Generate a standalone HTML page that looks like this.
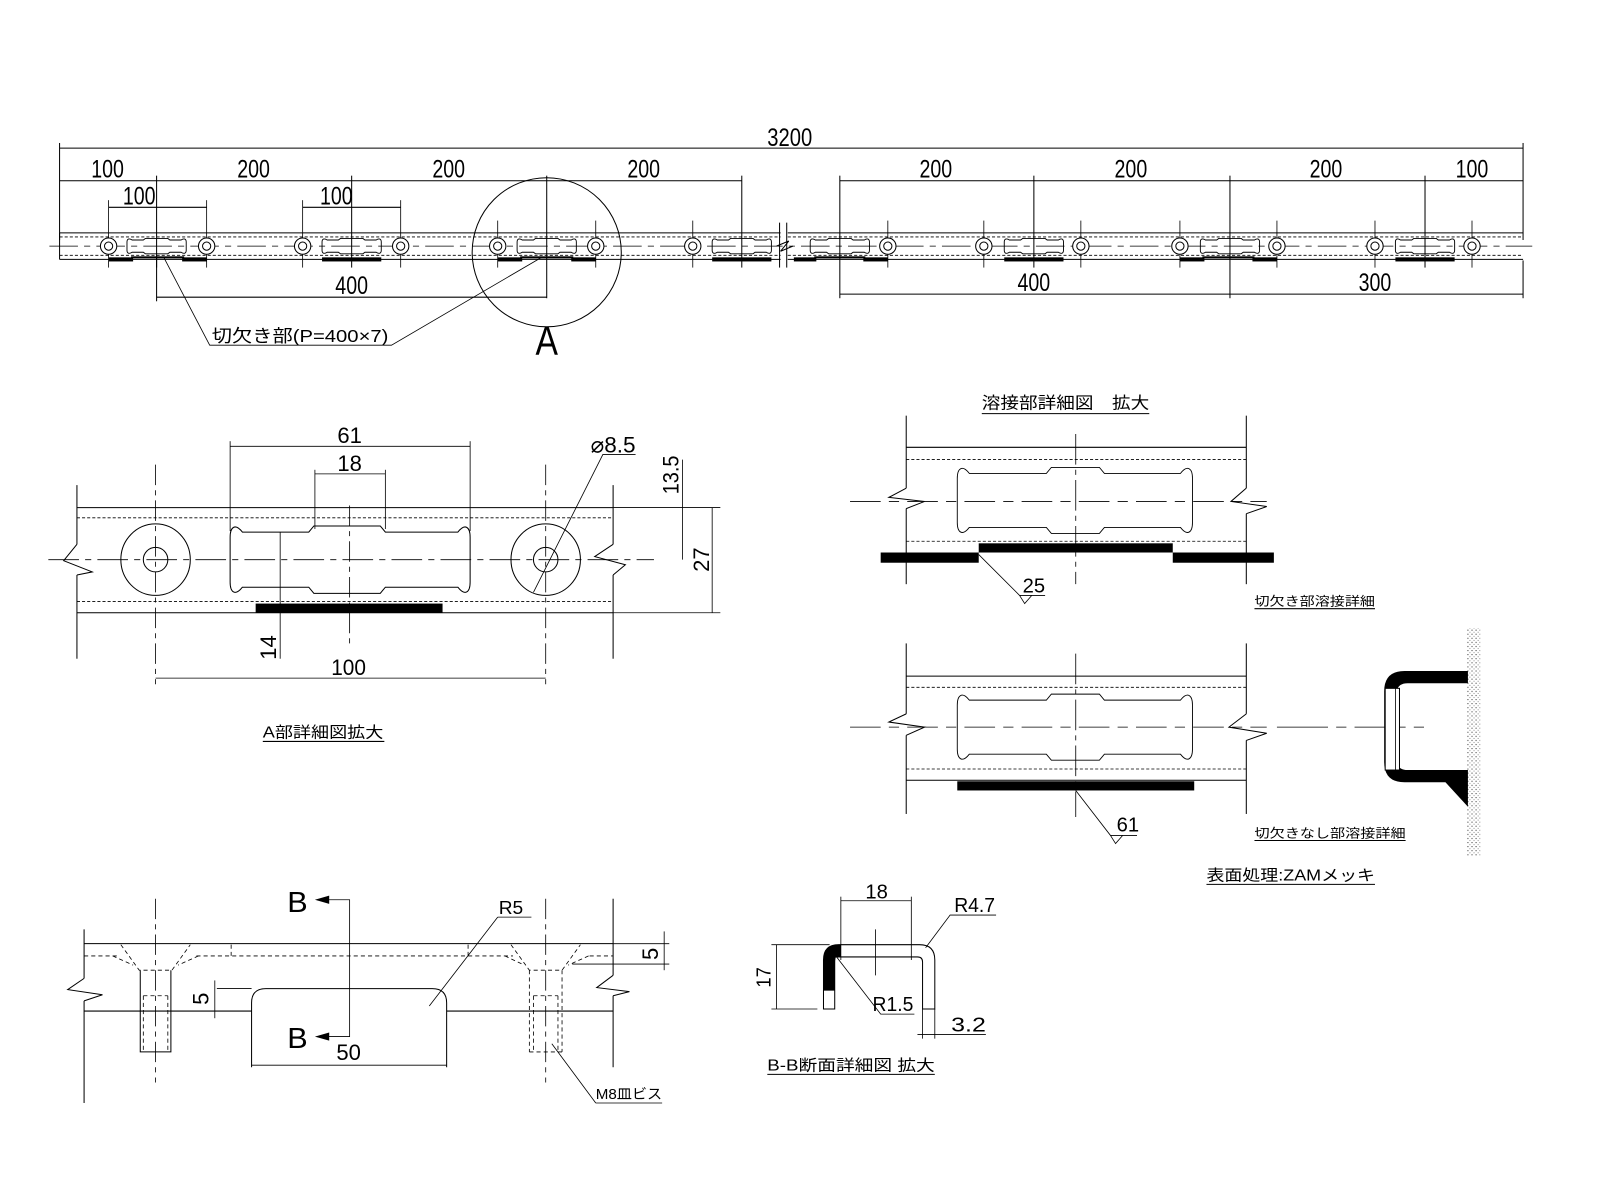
<!DOCTYPE html>
<html><head><meta charset="utf-8"><style>
html,body{margin:0;padding:0;background:#fff}
svg{display:block}
text{font-family:"Liberation Sans Narrow","Liberation Sans",sans-serif;fill:#000}
.j{font-family:"Liberation Sans","Noto Sans CJK JP",sans-serif}
</style></head><body>
<svg width="1600" height="1200" viewBox="0 0 1566 1175" xmlns="http://www.w3.org/2000/svg">
<defs>
<pattern id="sp" width="4" height="4" patternUnits="userSpaceOnUse"><rect width="4" height="4" fill="#fff"/><circle cx="1" cy="1" r="0.6" fill="#444"/><circle cx="3" cy="3" r="0.5" fill="#666"/></pattern>
<g id="hole"><circle r="8" fill="#fff" stroke="#000"/><circle r="4" fill="none" stroke="#000"/></g>
<g id="sslot"><path d="M5,-6 L16,-6 L18,-7.5 L40,-7.5 L42,-6 L53,-6 C56,-8 58,-7 58,-4 L58,4 C58,7 56,8 53,6 L42,6 L40,7.5 L18,7.5 L16,6 L5,6 C2,8 0,7 0,4 L0,-4 C0,-7 2,-8 5,-6 Z" fill="none" stroke="#000" stroke-width="0.9"/></g>
<g id="bslot"><path d="M12,-27 C5,-36 0,-32 0,-22 L0,22 C0,32 5,36 12,27 L77,27 L82,33 L147,33 L152,27 L223,27 C230,36 235,32 235,22 L235,-22 C235,-32 230,-36 223,-27 L152,-27 L147,-33 L82,-33 L77,-27 Z" fill="none" stroke="#000"/></g>
</defs>
<g stroke="#000" fill="none" stroke-width="1">
<line x1="58" y1="145" x2="1491" y2="145"/>
<line x1="58" y1="140" x2="58" y2="235"/><line x1="1491" y1="140" x2="1491" y2="235"/>
<line x1="58" y1="177" x2="726" y2="177"/><line x1="822" y1="177" x2="1491" y2="177"/>
<line x1="153" y1="172" x2="153" y2="262"/><line x1="344" y1="172" x2="344" y2="262"/><line x1="535" y1="172" x2="535" y2="292"/><line x1="726" y1="172" x2="726" y2="262"/>
<line x1="822" y1="172" x2="822" y2="292"/><line x1="1012" y1="172" x2="1012" y2="262"/><line x1="1204" y1="172" x2="1204" y2="292"/><line x1="1395" y1="172" x2="1395" y2="262"/>
<line x1="106" y1="203" x2="202" y2="203"/><line x1="296" y1="203" x2="392" y2="203"/>
<line x1="153" y1="250" x2="153" y2="295"/>
<line x1="153" y1="291" x2="535" y2="291"/>
<line x1="822" y1="288" x2="1491" y2="288"/><line x1="1491" y1="255" x2="1491" y2="292"/>
<g stroke-width="0.8">
<line x1="106" y1="196" x2="106" y2="262"/><line x1="202" y1="196" x2="202" y2="262"/>
<line x1="296" y1="196" x2="296" y2="262"/><line x1="392" y1="196" x2="392" y2="262"/>
<line x1="487" y1="216" x2="487" y2="262"/><line x1="583" y1="216" x2="583" y2="262"/>
<line x1="678" y1="216" x2="678" y2="262"/><line x1="869" y1="216" x2="869" y2="262"/>
<line x1="963" y1="216" x2="963" y2="262"/><line x1="1058" y1="216" x2="1058" y2="262"/>
<line x1="1155" y1="216" x2="1155" y2="262"/><line x1="1250" y1="216" x2="1250" y2="262"/>
<line x1="1346" y1="216" x2="1346" y2="262"/><line x1="1441" y1="216" x2="1441" y2="262"/>
</g>
<line x1="58" y1="228" x2="764" y2="228"/><line x1="58" y1="254" x2="764" y2="254"/>
<line x1="771" y1="228" x2="1491" y2="228"/><line x1="771" y1="254" x2="1491" y2="254"/>
<line x1="58" y1="228" x2="58" y2="254"/>
<g stroke-dasharray="3 2" stroke-width="0.8">
<line x1="58" y1="232" x2="764" y2="232"/><line x1="58" y1="250" x2="764" y2="250"/>
<line x1="771" y1="232" x2="1491" y2="232"/><line x1="771" y1="250" x2="1491" y2="250"/>
</g>
<line x1="48" y1="241" x2="1500" y2="241" stroke-dasharray="28 6 6 6" stroke-width="0.8"/>
<line x1="763" y1="218" x2="763" y2="262"/><line x1="770" y1="218" x2="770" y2="262"/>
<path d="M760,241 L772,236 L764,246 L776,241" />
<circle cx="535" cy="247" r="73"/>
<path d="M160,252 L205,338 L383,338 L530,252" stroke-width="0.8"/>
</g>
<g>
<use href="#hole" x="106" y="241"/><use href="#hole" x="202" y="241"/><use href="#hole" x="296" y="241"/><use href="#hole" x="392" y="241"/>
<use href="#hole" x="487" y="241"/><use href="#hole" x="583" y="241"/><use href="#hole" x="678" y="241"/><use href="#hole" x="869" y="241"/>
<use href="#hole" x="963" y="241"/><use href="#hole" x="1058" y="241"/><use href="#hole" x="1155" y="241"/><use href="#hole" x="1250" y="241"/>
<use href="#hole" x="1346" y="241"/><use href="#hole" x="1441" y="241"/>
<use href="#sslot" x="124" y="241"/><use href="#sslot" x="315" y="241"/><use href="#sslot" x="506" y="241"/><use href="#sslot" x="697" y="241"/>
<use href="#sslot" x="793" y="241"/><use href="#sslot" x="983" y="241"/><use href="#sslot" x="1175" y="241"/><use href="#sslot" x="1366" y="241"/>
</g>
<g fill="#000">
<rect x="106" y="252" width="24" height="4"/><rect x="178" y="252" width="24" height="4"/><rect x="128" y="251" width="52" height="2"/>
<rect x="315" y="252" width="58" height="4"/>
<rect x="487" y="252" width="24" height="4"/><rect x="559" y="252" width="24" height="4"/><rect x="509" y="251" width="52" height="2"/>
<rect x="697" y="252" width="58" height="4"/>
<rect x="777" y="252" width="22" height="4"/><rect x="845" y="252" width="24" height="4"/><rect x="797" y="251" width="50" height="2"/>
<rect x="983" y="252" width="58" height="4"/>
<rect x="1155" y="252" width="24" height="4"/><rect x="1226" y="252" width="24" height="4"/><rect x="1177" y="251" width="51" height="2"/>
<rect x="1366" y="252" width="58" height="4"/>
</g>
<g font-size="24" text-anchor="middle">
<text x="773" y="143" textLength="44" lengthAdjust="spacingAndGlyphs">3200</text>
<text x="105" y="174" textLength="32" lengthAdjust="spacingAndGlyphs">100</text>
<text x="248" y="174" textLength="32" lengthAdjust="spacingAndGlyphs">200</text>
<text x="439" y="174" textLength="32" lengthAdjust="spacingAndGlyphs">200</text>
<text x="630" y="174" textLength="32" lengthAdjust="spacingAndGlyphs">200</text>
<text x="916" y="174" textLength="32" lengthAdjust="spacingAndGlyphs">200</text>
<text x="1107" y="174" textLength="32" lengthAdjust="spacingAndGlyphs">200</text>
<text x="1298" y="174" textLength="32" lengthAdjust="spacingAndGlyphs">200</text>
<text x="1441" y="174" textLength="32" lengthAdjust="spacingAndGlyphs">100</text>
<text x="136" y="200" textLength="32" lengthAdjust="spacingAndGlyphs">100</text>
<text x="329" y="200" textLength="32" lengthAdjust="spacingAndGlyphs">100</text>
<text x="344" y="288" textLength="32" lengthAdjust="spacingAndGlyphs">400</text>
<text x="1012" y="285" textLength="32" lengthAdjust="spacingAndGlyphs">400</text>
<text x="1346" y="285" textLength="32" lengthAdjust="spacingAndGlyphs">300</text>
<text x="535" y="347" font-size="40" textLength="22" lengthAdjust="spacingAndGlyphs">A</text>
</g>
<text x="207" y="335" font-size="17" class="j" textLength="173" lengthAdjust="spacingAndGlyphs">切欠き部(P=400×7)</text>

<g stroke="#000" fill="none">
<line x1="75" y1="497" x2="600" y2="497"/><line x1="75" y1="600" x2="600" y2="600"/>
<line x1="600" y1="497" x2="705" y2="497" stroke-width="0.8"/><line x1="600" y1="600" x2="705" y2="600" stroke-width="0.8"/>
<g stroke-dasharray="3 2" stroke-width="0.8"><line x1="75" y1="507" x2="600" y2="507"/><line x1="75" y1="589" x2="600" y2="589"/></g>
<line x1="75" y1="475" x2="75" y2="533"/><line x1="75" y1="563" x2="75" y2="645"/>
<path d="M75,533 L62,549 L90,560 L75,563"/>
<line x1="600" y1="475" x2="600" y2="533"/><line x1="600" y1="563" x2="600" y2="645"/>
<path d="M600,533 L582,545 L612,553 L600,563"/>
<line x1="47" y1="548" x2="640" y2="548" stroke-dasharray="30 6 6 6" stroke-width="0.8"/>
<ellipse cx="152" cy="548" rx="34" ry="35"/><circle cx="152" cy="548" r="12"/>
<ellipse cx="534" cy="548" rx="34" ry="35"/><circle cx="534" cy="548" r="12"/>
<line x1="152" y1="455" x2="152" y2="670" stroke-dasharray="20 5 5 5" stroke-width="0.8"/>
<line x1="534" y1="455" x2="534" y2="670" stroke-dasharray="20 5 5 5" stroke-width="0.8"/>
<line x1="342" y1="495" x2="342" y2="630" stroke-dasharray="20 5 5 5" stroke-width="0.8"/>
<use href="#bslot" x="225" y="548"/>
<g stroke-width="0.8">
<line x1="225" y1="437" x2="460" y2="437"/><line x1="225" y1="432" x2="225" y2="520"/><line x1="460" y1="432" x2="460" y2="520"/>
<line x1="308" y1="464" x2="377" y2="464"/><line x1="308" y1="460" x2="308" y2="518"/><line x1="377" y1="460" x2="377" y2="518"/>
<path d="M622,445 L590,445 L522,580"/>
<line x1="668" y1="450" x2="668" y2="548"/><line x1="697" y1="497" x2="697" y2="600"/>
<line x1="274" y1="521" x2="274" y2="645"/>
<line x1="152" y1="664" x2="534" y2="664"/>
</g>
</g>
<rect x="250" y="591" width="183" height="9" fill="#000"/>
<g font-size="22" text-anchor="middle">
<text x="342" y="434" textLength="24" lengthAdjust="spacingAndGlyphs">61</text>
<text x="342" y="461" textLength="24" lengthAdjust="spacingAndGlyphs">18</text>
<text x="341" y="661" textLength="34" lengthAdjust="spacingAndGlyphs">100</text>
<text x="600" y="443" textLength="44" lengthAdjust="spacingAndGlyphs">⌀8.5</text>
<text transform="translate(664,465) rotate(-90)" textLength="38" lengthAdjust="spacingAndGlyphs">13.5</text>
<text transform="translate(694,548) rotate(-90)" textLength="24" lengthAdjust="spacingAndGlyphs">27</text>
<text transform="translate(270,634) rotate(-90)" textLength="24" lengthAdjust="spacingAndGlyphs">14</text>
</g>
<text x="257" y="722" font-size="15" class="j" textLength="118" lengthAdjust="spacingAndGlyphs">A部詳細図拡大</text>
<line x1="257" y1="726" x2="376" y2="726" stroke="#000"/>

<g stroke="#000" fill="none">
<line x1="82" y1="924" x2="600" y2="924"/><line x1="82" y1="990" x2="246" y2="990"/><line x1="437" y1="990" x2="600" y2="990"/>
<line x1="82" y1="910" x2="82" y2="958"/><line x1="82" y1="980" x2="82" y2="1080"/>
<path d="M82,958 L66,969 L100,974 L82,980"/>
<line x1="600" y1="880" x2="600" y2="955"/><line x1="600" y1="975" x2="600" y2="1045"/>
<path d="M600,955 L584,967 L616,971 L600,975"/>
<g stroke-dasharray="4 3" stroke-width="0.8">
<path d="M82,936 L117,936 M192,936 L502,936 M577,936 L600,936"/>
<path d="M118,925 L136,950 L168,950 L186,925 M110,936 L130,945 M194,936 L174,945"/>
<path d="M500,925 L518,950 L550,950 L568,925 M494,936 L513,945 M576,936 L556,945"/>
<path d="M226,925 L226,936 M458,925 L458,936"/>
<path d="M140,975 L140,1028 M164,975 L164,1028 M140,975 L164,975"/>
<path d="M518,950 L518,1030 M550,950 L550,1030 M522,975 L522,1028 M546,975 L546,1028 M522,975 L546,975 M518,1030 L550,1030"/>
</g>
<path d="M137,950 L137,1030 L167,1030 L167,950"/>
<line x1="152" y1="880" x2="152" y2="1060" stroke-dasharray="20 5 5 5" stroke-width="0.8"/>
<line x1="534" y1="880" x2="534" y2="1060" stroke-dasharray="20 5 5 5" stroke-width="0.8"/>
<path d="M246,1045 L246,982 Q246,968 260,968 L423,968 Q437,968 437,982 L437,1045"/>
<g stroke-width="0.8">
<line x1="246" y1="1043" x2="437" y2="1043"/>
<line x1="210" y1="960" x2="210" y2="997"/><line x1="212" y1="968" x2="246" y2="968"/>
<line x1="650" y1="912" x2="650" y2="950"/><line x1="600" y1="924" x2="655" y2="924"/><line x1="560" y1="944" x2="655" y2="944"/>
<path d="M310,881 L342,881 L342,1015 L310,1015"/>
<path d="M487,898 L520,898 M487,898 L420,985"/>
<path d="M583,1080 L648,1080 M583,1080 L540,1022"/>
</g>
</g>
<path d="M308,881 L322,877 L322,885 Z M308,1015 L322,1011 L322,1019 Z" fill="#000"/>
<g font-size="22" text-anchor="middle">
<text x="291" y="893" font-size="28" textLength="20" lengthAdjust="spacingAndGlyphs">B</text>
<text x="291" y="1026" font-size="28" textLength="20" lengthAdjust="spacingAndGlyphs">B</text>
<text x="500" y="895" font-size="18" textLength="24" lengthAdjust="spacingAndGlyphs">R5</text>
<text x="341" y="1038" textLength="24" lengthAdjust="spacingAndGlyphs">50</text>
<text transform="translate(204,978) rotate(-90)" textLength="12" lengthAdjust="spacingAndGlyphs">5</text>
<text transform="translate(644,934) rotate(-90)" textLength="12" lengthAdjust="spacingAndGlyphs">5</text>
</g>
<text x="583" y="1076" font-size="14" class="j" textLength="65" lengthAdjust="spacingAndGlyphs">M8皿ビス</text>

<g stroke="#000" fill="none">
<path d="M806,988 L806,940 Q806,925 821,925 L900,925 Q915,925 915,940 L915,988 L903,988 L903,942 Q903,937 898,937 L818,937 Q817,937 817,942 L817,988 Z"/>
<g stroke-width="0.8">
<line x1="823" y1="878" x2="823" y2="940"/><line x1="892" y1="878" x2="892" y2="940"/><line x1="823" y1="882" x2="892" y2="882"/>
<line x1="857" y1="910" x2="857" y2="955"/>
<line x1="755" y1="925" x2="812" y2="925"/><line x1="755" y1="988" x2="800" y2="988"/><line x1="760" y1="925" x2="760" y2="988"/>
<path d="M975,896 L930,896 L906,928"/>
<path d="M895,993 L862,993 L818,936"/>
<line x1="903" y1="988" x2="903" y2="1017"/><line x1="915" y1="988" x2="915" y2="1017"/><line x1="898" y1="1013" x2="965" y2="1013"/>
</g>
</g>
<path d="M806,970 L806,940 Q806,925 821,925 L823,925 L823,937 L818,937 L817,942 L817,970 Z" fill="#000"/>
<g font-size="20" text-anchor="middle">
<text x="858" y="880" textLength="22" lengthAdjust="spacingAndGlyphs">18</text>
<text x="954" y="893" textLength="40" lengthAdjust="spacingAndGlyphs">R4.7</text>
<text x="874" y="990" textLength="40" lengthAdjust="spacingAndGlyphs">R1.5</text>
<text x="948" y="1010" textLength="34" lengthAdjust="spacingAndGlyphs">3.2</text>
<text transform="translate(754,957) rotate(-90)" textLength="20" lengthAdjust="spacingAndGlyphs">17</text>
</g>
<text x="751" y="1048" font-size="15" class="j" textLength="164" lengthAdjust="spacingAndGlyphs">B-B断面詳細図 拡大</text>
<line x1="751" y1="1052" x2="915" y2="1052" stroke="#000"/>

<text x="961" y="400" font-size="16" class="j" textLength="164" lengthAdjust="spacingAndGlyphs">溶接部詳細図　拡大</text>
<line x1="961" y1="405" x2="1125" y2="405" stroke="#000"/>
<g stroke="#000" fill="none">
<line x1="887" y1="438" x2="1220" y2="438"/>
<g stroke-dasharray="3 2" stroke-width="0.8"><line x1="887" y1="450" x2="1220" y2="450"/><line x1="887" y1="530" x2="1220" y2="530"/></g>
<line x1="887" y1="407" x2="887" y2="478"/><line x1="887" y1="498" x2="887" y2="572"/>
<path d="M887,478 L870,487 L905,491 L887,498"/>
<line x1="1220" y1="407" x2="1220" y2="478"/><line x1="1220" y1="503" x2="1220" y2="572"/>
<path d="M1220,478 L1205,491 L1240,496 L1220,503"/>
<line x1="832" y1="491" x2="1240" y2="491" stroke-dasharray="30 8 10 8" stroke-width="0.8"/>
<line x1="1053" y1="425" x2="1053" y2="572" stroke-dasharray="30 5 5 5" stroke-width="0.8"/>
<path transform="translate(937,490) scale(0.98,0.98)" d="M12,-27 C5,-36 0,-32 0,-22 L0,22 C0,32 5,36 12,27 L89,27 L94,33 L142,33 L147,27 L223,27 C230,36 235,32 235,22 L235,-22 C235,-32 230,-36 223,-27 L147,-27 L142,-33 L94,-33 L89,-27 Z" stroke-width="0.9"/>
<path d="M958,543 L998,583 L1023,583 M998,583 L1003,591 L1010,583" stroke-width="0.8"/>
</g>
<g fill="#000">
<rect x="958" y="532" width="190" height="9"/>
<rect x="862" y="541" width="96" height="10"/>
<rect x="1148" y="541" width="99" height="10"/>
</g>
<text x="1012" y="580" font-size="20" text-anchor="middle" textLength="22" lengthAdjust="spacingAndGlyphs">25</text>
<text x="1228" y="593" font-size="12" class="j" textLength="118" lengthAdjust="spacingAndGlyphs">切欠き部溶接詳細</text>
<line x1="1228" y1="596" x2="1346" y2="596" stroke="#000"/>

<g stroke="#000" fill="none">
<line x1="887" y1="662" x2="1220" y2="662"/><line x1="887" y1="764" x2="1220" y2="764"/>
<g stroke-dasharray="3 2" stroke-width="0.8"><line x1="887" y1="673" x2="1220" y2="673"/><line x1="887" y1="753" x2="1220" y2="753"/></g>
<line x1="887" y1="630" x2="887" y2="699"/><line x1="887" y1="720" x2="887" y2="797"/>
<path d="M887,699 L870,707 L905,712 L887,720"/>
<line x1="1220" y1="630" x2="1220" y2="699"/><line x1="1220" y1="725" x2="1220" y2="797"/>
<path d="M1220,699 L1203,712 L1240,718 L1220,725"/>
<line x1="832" y1="712" x2="1240" y2="712" stroke-dasharray="30 8 10 8" stroke-width="0.8"/>
<line x1="1250" y1="712" x2="1398" y2="712" stroke-dasharray="50 8 10 8" stroke-width="0.8"/>
<line x1="1053" y1="640" x2="1053" y2="800" stroke-dasharray="30 5 5 5" stroke-width="0.8"/>
<path transform="translate(937,712) scale(0.98,0.98)" d="M12,-27 C5,-36 0,-32 0,-22 L0,22 C0,32 5,36 12,27 L89,27 L94,33 L142,33 L147,27 L223,27 C230,36 235,32 235,22 L235,-22 C235,-32 230,-36 223,-27 L147,-27 L142,-33 L94,-33 L89,-27 Z" stroke-width="0.9"/>
<path d="M1053,774 L1087,818 L1113,818 M1087,818 L1092,826 L1099,818" stroke-width="0.8"/>
</g>
<rect x="937" y="765" width="232" height="9" fill="#000"/>
<text x="1104" y="814" font-size="20" text-anchor="middle" textLength="22" lengthAdjust="spacingAndGlyphs">61</text>
<text x="1228" y="820" font-size="12" class="j" textLength="148" lengthAdjust="spacingAndGlyphs">切欠きなし部溶接詳細</text>
<line x1="1228" y1="823" x2="1376" y2="823" stroke="#000"/>
<rect x="1436" y="615" width="13" height="223" fill="url(#sp)"/>
<path d="M1437,657 L1375,657 Q1355,657 1355,677 L1355,746 Q1355,766 1375,766 L1415,766 L1437,790 L1437,754 L1378,754 Q1367,754 1367,743 L1367,680 Q1367,669 1378,669 L1437,669 Z" fill="#000"/>
<rect x="1356" y="674" width="14" height="80" fill="#fff" stroke="#000"/>
<line x1="1366" y1="674" x2="1366" y2="754" stroke="#000" stroke-width="0.8"/>
<text x="1181" y="862" font-size="15" class="j" textLength="165" lengthAdjust="spacingAndGlyphs">表面処理:ZAMメッキ</text>
<line x1="1181" y1="866" x2="1346" y2="866" stroke="#000"/>
</svg>
</body></html>
